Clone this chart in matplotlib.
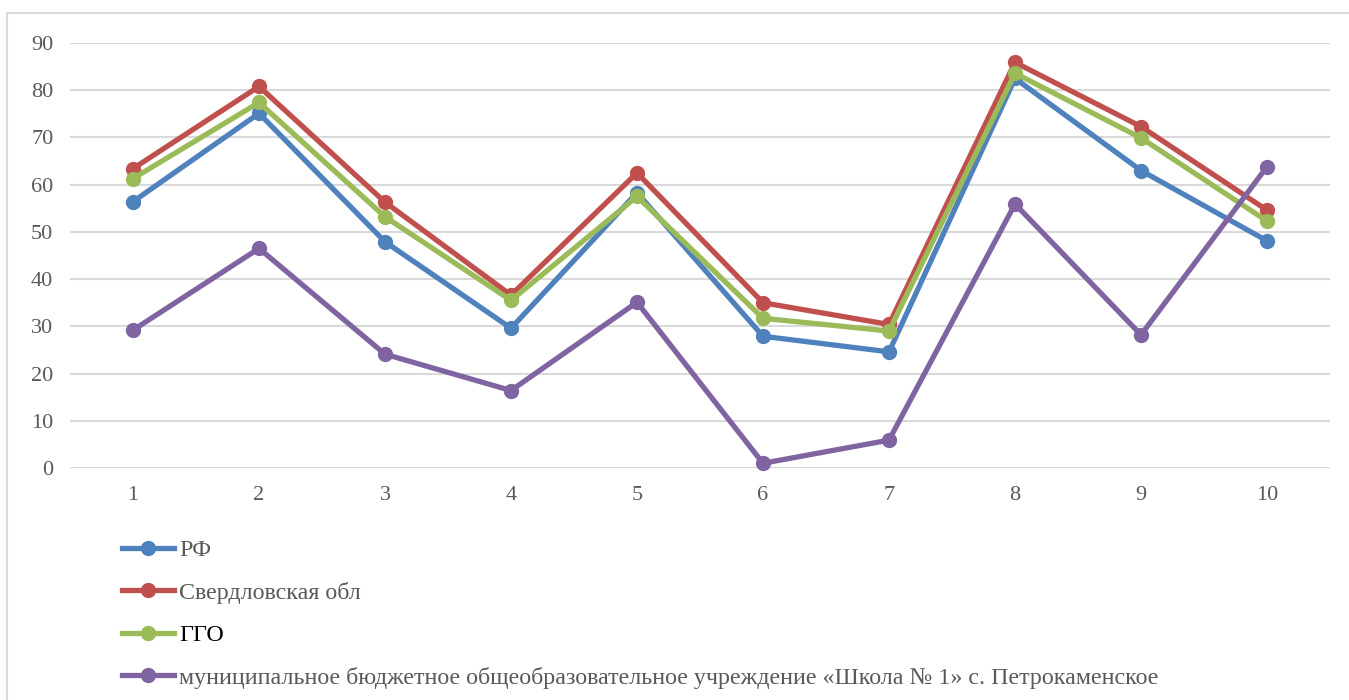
import matplotlib
matplotlib.use("Agg")
import matplotlib.pyplot as plt
from matplotlib.patches import Rectangle

plt.rcParams['font.family'] = ['Liberation Serif', 'DejaVu Serif']

categories = [1, 2, 3, 4, 5, 6, 7, 8, 9, 10]
rf = [56.4, 75.1, 47.9, 29.6, 58.3, 27.9, 24.6, 82.5, 63.0, 48.1]
sverdl = [63.4, 80.8, 56.3, 36.6, 62.5, 35.0, 30.4, 85.9, 72.3, 54.6]
ggo = [61.3, 77.4, 53.2, 35.5, 57.5, 31.7, 29.0, 83.6, 69.9, 52.3]
school = [29.2, 46.5, 24.1, 16.4, 35.1, 1.0, 5.9, 55.9, 28.2, 63.8]

labels = ["РФ", "Свердловская обл", "ГГО",
          "муниципальное бюджетное общеобразовательное учреждение «Школа № 1» с. Петрокаменское"]
colors = ["#4F81BD", "#C0504D", "#9BBB59", "#8064A2"]

fig = plt.figure(figsize=(13.49, 7.0), dpi=100)
fig.patches.append(Rectangle((7 / 1349, -0.1), 1.1, 1 - 13 / 700 + 0.1,
                             transform=fig.transFigure, fill=False,
                             edgecolor="#D9D9D9", linewidth=1.5))
ax = fig.add_axes([70 / 1349, 1 - 468 / 700, 1260 / 1349, 425 / 700])

x = list(range(len(categories)))
for series, lab, col in zip([rf, sverdl, ggo, school], labels, colors):
    ax.plot(x, series, color=col, linewidth=3.8, marker="o", markersize=10,
            markeredgecolor=col, markerfacecolor=col, label=lab,
            solid_joinstyle="round", clip_on=False)

ax.set_xlim(-0.5, len(categories) - 0.5)
ax.set_ylim(0, 90)
ax.set_yticks(range(0, 91, 10))
ax.set_xticks(x)
ax.set_xticklabels([str(c) for c in categories])
ax.grid(axis="y", color="#D9D9D9", linewidth=1.5)
ax.set_axisbelow(True)
for s in ax.spines.values():
    s.set_visible(False)
ax.tick_params(axis="both", length=0, labelsize=16, colors="#595959")
ax.tick_params(axis="y", pad=12)
ax.tick_params(axis="x", pad=13)

leg = fig.legend(loc="upper left", bbox_to_anchor=(112 / 1349, 1 - 530 / 700),
                 frameon=False, fontsize=17.3, handlelength=2.2, handletextpad=0.2,
                 labelspacing=0.85, borderaxespad=0)
for i, t in enumerate(leg.get_texts()):
    t.set_color("black" if i == 2 else "#595959")

fig.savefig("out.png", dpi=100)
